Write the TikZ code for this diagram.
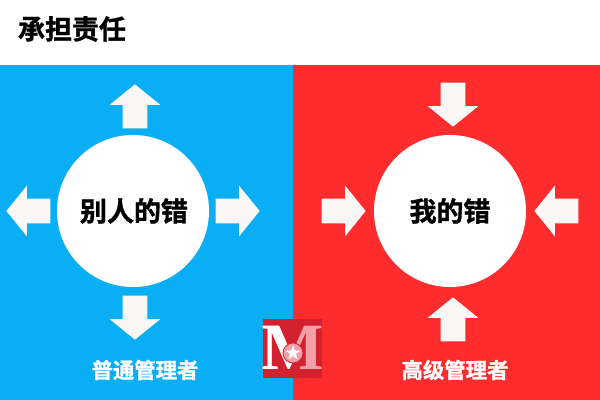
\documentclass[tikz,border=0pt]{standalone}
\usepackage{fontspec}
\newfontfamily\cjk[FakeBold=1.2]{Noto Sans CJK SC Bold}
\setmainfont{Liberation Serif}
\usetikzlibrary{shapes.arrows,shapes.geometric}
\definecolor{leftblue}{HTML}{0AAEF4}
\definecolor{rightred}{HTML}{FE2C2C}
\definecolor{arrowwhite}{HTML}{FAF8F6}
\definecolor{logored}{HTML}{D2222F}
\definecolor{logopink}{HTML}{F2A0A8}
\tikzset{
  bigarrow/.style = {single arrow, fill=arrowwhite, inner xsep=0pt, inner ysep=0.3cm, anchor=tip,
    minimum height=1.1cm,
    single arrow head extend=0.325cm, single arrow tip angle=102},
  disc/.style = {circle, fill=white, inner sep=0pt, minimum size=3.8cm},
  errtext/.style = {font=\cjk\fontsize{19.2}{19}\selectfont, text=black},
  roletext/.style = {font=\cjk\fontsize{15.2}{15}\selectfont, text=white}
}
\begin{document}
\begin{tikzpicture}[x=0.025cm,y=-0.025cm]
        \useasboundingbox (0,0) rectangle (600,400);
        \fill[white] (0,0) rectangle (600,400);
        \fill[leftblue] (0,65) rectangle (293,400);
        \fill[rightred] (293,65) rectangle (600,400);
        \node[errtext, text=black] (title) at (72,29) {承担责任};
        % left side
        \node[disc] (others) at (133,211) {};
        \node[errtext] (otherstext) at (134,211) {别人的错};
        \node[bigarrow, rotate=90] (lup) at (135,84) {};
        \node[bigarrow, rotate=-90] (ldown) at (135,340) {};
        \node[bigarrow, rotate=180] (lleft) at (6,211) {};
        \node[bigarrow] (lright) at (260,211) {};
        \node[roletext] (normal) at (145,370) {普通管理者};
        % right side
        \node[disc] (mine) at (450,211) {};
        \node[errtext] (minetext) at (450,211) {我的错};
        \node[bigarrow, rotate=-90] (rdown) at (453,127) {};
        \node[bigarrow, rotate=90] (rup) at (453,297) {};
        \node[bigarrow] (rright) at (366,211) {};
        \node[bigarrow, rotate=180] (rleft) at (534,211) {};
        \node[roletext] (senior) at (455,370) {高级管理者};
        % logo
        \fill[logored] (263,319) rectangle (322,378);
        \node[font=\bfseries\fontsize{47}{47}\selectfont, text=logopink] (logoback) at (292.5,348) {M};
        \begin{scope}
          \clip (263,319) rectangle (293,378);
          \node[font=\bfseries\fontsize{47}{47}\selectfont, text=white] (logofront) at (292.5,348) {M};
        \end{scope}
        \node[circle, fill=logopink, draw=logored, line width=0.6pt, inner sep=0pt, minimum size=0.5cm] (logodisc) at (293,353) {};
        \node[star, star points=5, star point ratio=2.4, fill=white, inner sep=0pt, minimum size=0.38cm] (logostar) at (293,353) {};
\end{tikzpicture}
\end{document}
